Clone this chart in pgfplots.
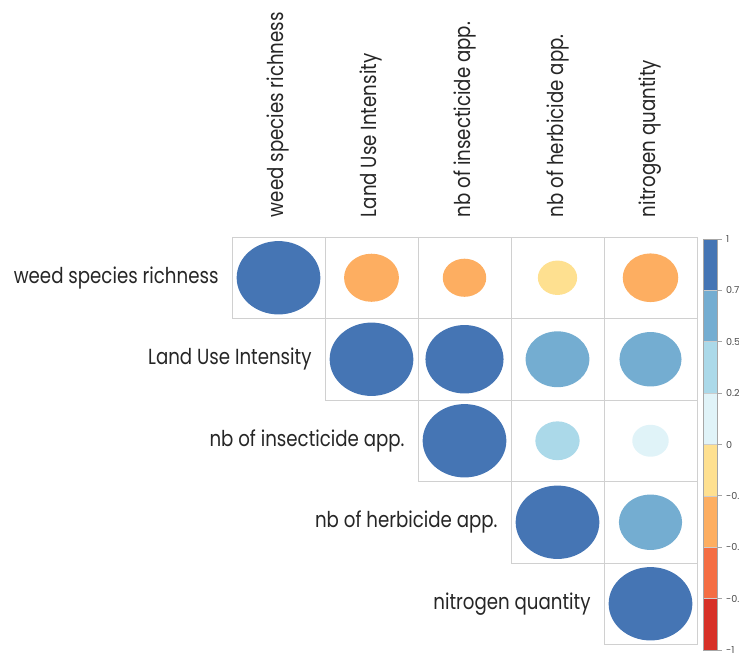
\documentclass[border=0pt]{standalone}
\usepackage{pgfplots}
\pgfplotsset{compat=1.18}
\usepackage{pgfplotstable}
\usepackage{fontspec}
\setmainfont{Poppins}
\definecolor{c1}{HTML}{D73027}
\definecolor{c2}{HTML}{F46D43}
\definecolor{c3}{HTML}{FDAE61}
\definecolor{c4}{HTML}{FEE090}
\definecolor{c5}{HTML}{E0F3F8}
\definecolor{c6}{HTML}{ABD9E9}
\definecolor{c7}{HTML}{74ADD1}
\definecolor{c8}{HTML}{4575B4}
\definecolor{gridc}{HTML}{D0D0D0}
% correlation matrix (upper triangle), row i, column j
\pgfplotstableread{
i j r cls
1 1 1.00 c8
1 2 -0.43 c3
1 3 -0.27 c3
1 4 -0.22 c4
1 5 -0.44 c3
2 2 1.00 c8
2 3 0.87 c8
2 4 0.58 c7
2 5 0.55 c7
3 3 1.00 c8
3 4 0.28 c6
3 5 0.19 c5
4 4 1.00 c8
4 5 0.57 c7
5 5 1.00 c8
}\corrtable
% colour bar bins
\pgfplotstableread{
lo hi cls
-1.00 -0.75 c1
-0.75 -0.50 c2
-0.50 -0.25 c3
-0.25 0.00 c4
0.00 0.25 c5
0.25 0.50 c6
0.50 0.75 c7
0.75 1.00 c8
}\bins
\pgfdeclareplotmark{ell}{%
  \pgfmathsetlengthmacro\rx{0.45*46.5pt*sqrt(abs(\rv))}%
  \pgfmathsetlengthmacro\ry{0.45*40.75pt*sqrt(abs(\rv))}%
  \pgfpathellipse{\pgfpointorigin}{\pgfqpoint{\rx}{0pt}}{\pgfqpoint{0pt}{\ry}}%
  \pgfusepathqfill}
\newcommand\lab{\fontsize{9.1}{11}\selectfont}
\begin{document}
\begin{tikzpicture}
\begin{axis}[
  at={(116pt,-118.5pt)}, anchor=north west,
  x=46.5pt, y=40.75pt, y dir=reverse,
  xmin=0.5, xmax=5.5, ymin=0.5, ymax=5.5,
  hide axis, clip=false,
]
\foreach \a in {1,...,5}{
  \foreach \b in {\a,...,5}{
    \edef\tmp{\noexpand\draw[gridc, line width=0.45pt] (axis cs:\b-0.5,\a-0.5) rectangle (axis cs:\b+0.5,\a+0.5);}\tmp
  }
}
\addplot[scatter, only marks, mark=ell, point meta=explicit symbolic,
  scatter/classes={c1={color=c1},c2={color=c2},c3={color=c3},c4={color=c4},c5={color=c5},c6={color=c6},c7={color=c7},c8={color=c8}},
  visualization depends on={\thisrow{r} \as \rv}]
  table[x=j, y=i, meta=cls] {\corrtable};
\foreach \k/\t in {1/weed species richness,2/Land Use Intensity,3/nb of insecticide app.,4/nb of herbicide app.,5/nitrogen quantity}{
  \edef\tmp{\noexpand\node[anchor=west, rotate=90, yscale=1.2, inner sep=0pt, text=black!85] at (axis cs:\k,0.26) {\noexpand\lab \t};
  \noexpand\node[anchor=east, yscale=1.2, inner sep=0pt, text=black!85] at (axis cs:\k-0.64,\k) {\noexpand\lab \t};}\tmp
}
\end{axis}
\begin{axis}[
  at={(351.5pt,-119.5pt)}, anchor=north west,
  x=7pt, y=102.75pt,
  xmin=0, xmax=1, ymin=-1, ymax=1,
  axis line style={gray!70, line width=0.4pt},
  xtick=\empty,
  ytick={-1,-0.75,...,1},
  yticklabels={-1,-0.75,-0.5,-0.25,0,0.25,0.5,0.75,1},
  ytick pos=right, yticklabel pos=right,
  tick align=outside, major tick length=2.5pt,
  tick style={gray!70, line width=0.4pt},
  yticklabel style={font=\fontsize{4.8}{5}\selectfont, text=black!70, xshift=-1.5pt},
  /pgf/number format/assume math mode=true,
  clip=false, axis on top,
]
\pgfplotsinvokeforeach{0,...,7}{
  \pgfplotstablegetelem{#1}{lo}\of\bins \let\lo\pgfplotsretval
  \pgfplotstablegetelem{#1}{hi}\of\bins \let\hi\pgfplotsretval
  \pgfplotstablegetelem{#1}{cls}\of\bins \let\cl\pgfplotsretval
  \edef\tmp{\noexpand\addplot[fill=\cl, draw=gray!40, line width=0.3pt] coordinates {(0,\lo) (1,\lo) (1,\hi) (0,\hi)} --cycle;}\tmp
}
\end{axis}
\pgfresetboundingbox
\path[use as bounding box] (0,0) rectangle (369.5pt,-326.5pt);
\end{tikzpicture}
\end{document}
